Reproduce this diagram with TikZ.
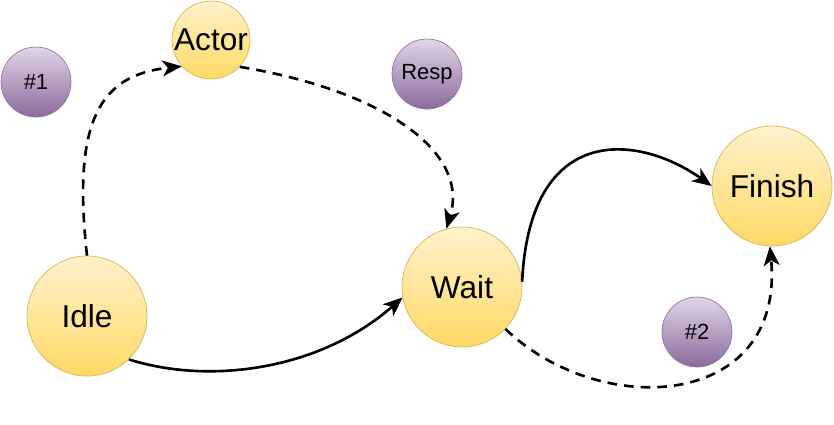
\documentclass[tikz,border=0pt]{standalone}
\usepackage{fontspec}
\setmainfont{Liberation Sans}
\usetikzlibrary{arrows.meta}
\definecolor{stateTop}{HTML}{FFF2CC}
\definecolor{stateBot}{HTML}{FFD966}
\definecolor{stateLine}{HTML}{D6B656}
\definecolor{tokenTop}{HTML}{E1D5E7}
\definecolor{tokenBot}{HTML}{8C6A9C}
\definecolor{tokenLine}{HTML}{9673A6}
\begin{document}
\begin{tikzpicture}[
x=0.02cm, y=-0.02cm,
state/.style={circle, draw=stateLine, top color=stateTop, bottom color=stateBot,
  inner sep=0pt, minimum size=2.4cm, font=\fontsize{18}{21}\selectfont},
smallstate/.style={state, minimum size=1.56cm},
token/.style={circle, draw=tokenLine, top color=tokenTop, bottom color=tokenBot,
  inner sep=0pt, minimum size=1.4cm, font=\fontsize{12.5}{15}\selectfont},
link/.style={line width=1.5pt, -{Stealth[length=11pt,width=9pt,inset=3pt]}},
dashlink/.style={link, dash pattern=on 5.5pt off 4pt}
]
\useasboundingbox (0,0) rectangle (834,424);

\node[smallstate] (actor) at (211,40) {Actor};
\node[token] (t1) at (36,82) {\#1};
\node[token] (resp) at (427,74) {Resp};
\node[state] (idle) at (87,316) {Idle};
\node[state] (wait) at (462,287) {Wait};
\node[state] (finish) at (772,186) {Finish};
\node[token] (t2) at (697,332) {\#2};

\draw[dashlink] (idle.north) .. controls (72,120) and (100,75) .. (actor.222);
\draw[dashlink] (actor.-43) .. controls (380,90) and (470,150) .. (wait.105);
\draw[link] (idle.-46) .. controls (210,385) and (320,370) .. (wait.190);
\draw[link] (wait.5) .. controls (530,120) and (640,135) .. (finish.west);
\draw[dashlink] (wait.-44) .. controls (600,420) and (785,410) .. (finish.268);

\end{tikzpicture}
\end{document}
